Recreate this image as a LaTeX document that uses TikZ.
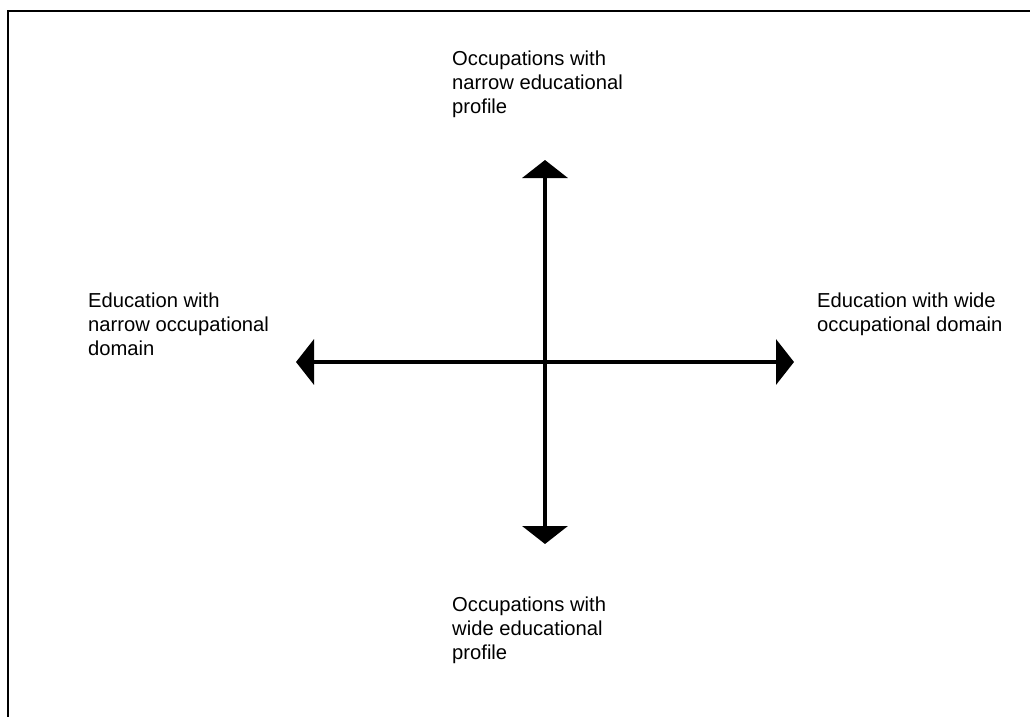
\documentclass[tikz,border=0pt]{standalone}
\usepackage{fontspec}
\setmainfont{Liberation Sans}
\usetikzlibrary{arrows.meta}
\begin{document}
\begin{tikzpicture}[x=1pt,y=-1pt,
  lbl/.style={anchor=north west,inner sep=0pt,align=left,font=\fontsize{20.2}{24}\selectfont},
  axis/.style={line width=4pt,{Triangle[length=18pt,width=45pt]}-{Triangle[length=18pt,width=45pt]}},
  frameline/.style={line width=2pt}]
\useasboundingbox (0,0) rectangle (1030,716);
\draw[frameline] (7.5,717) -- (7.5,10.5) -- (1031,10.5);
\coordinate (up) at (545,160);
\coordinate (down) at (545,544);
\coordinate (left) at (296,362);
\coordinate (right) at (794,362);
\draw[axis] (down) -- (up);
\draw[axis] (left) -- (right);
\node[lbl] (topl) at (452,51) {Occupations with\\narrow educational\\profile};
\node[lbl] (botl) at (452,597) {Occupations with\\wide educational\\profile};
\node[lbl] (leftl) at (88,293) {Education with\\narrow occupational\\domain};
\node[lbl] (rightl) at (817,293) {Education with wide\\occupational domain};
\end{tikzpicture}
\end{document}
